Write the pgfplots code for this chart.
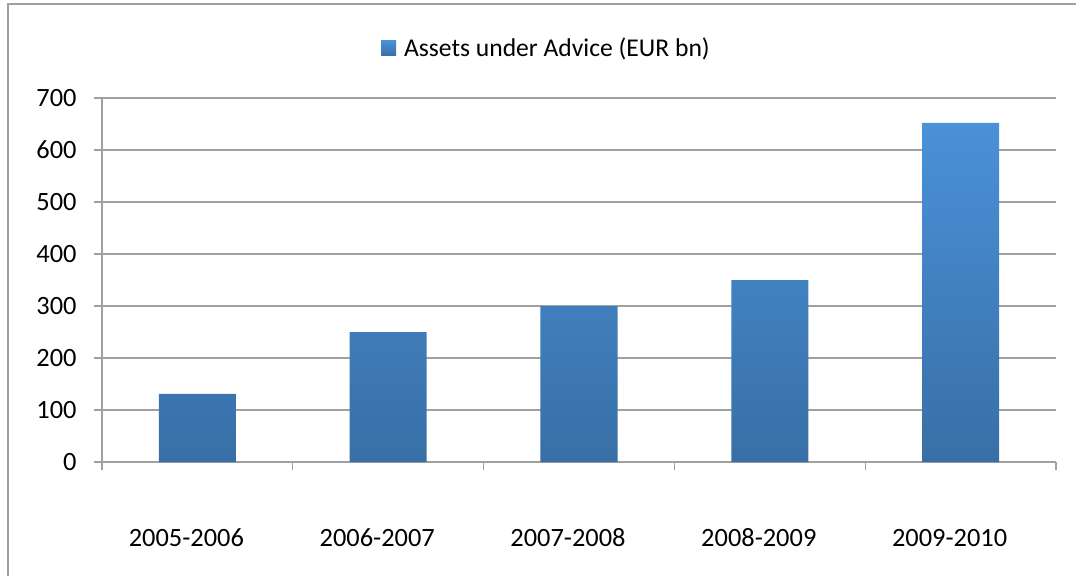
\documentclass[border=0pt]{standalone}
\usepackage{pgfplots}
\pgfplotsset{compat=1.18}
\usepackage{fontspec}
\setmainfont{Carlito}
\definecolor{gridgray}{RGB}{160,160,160}
\definecolor{bartop}{RGB}{74,145,216}
\definecolor{barbot}{RGB}{56,111,166}
\begin{document}
\begin{tikzpicture}
\useasboundingbox (0,0) rectangle (538bp,-288bp);
\draw[gridgray, line width=0.6bp] (4bp,-2bp) rectangle (700bp,-500bp);
\begin{axis}[
  at={(51bp,-231bp)}, anchor=south west,
  scale only axis, width=477bp, height=182bp,
  font=\fontsize{13.2bp}{15.8bp}\selectfont,
  /pgf/number format/assume math mode=true,
  xmin=-0.5, xmax=4.5, ymin=0, ymax=700,
  ytick={0,100,...,700},
  xtick={-0.5,0.5,1.5,2.5,3.5,4.5},
  xticklabels={,,,,,},
  extra x ticks={0,1,2,3,4},
  extra x tick labels={2005-2006,2006-2007,2007-2008,2008-2009,2009-2010},
  extra x tick style={major tick length=0pt, grid=none,
     tick label style={anchor=base, yshift=-42.3bp, xshift=-5.5bp}},
  axis x line*=bottom, axis y line*=left,
  axis line style={-, gridgray, line width=0.65bp},
  tick style={gridgray, line width=0.65bp},
  tick align=outside, major tick length=4bp,
  ymajorgrids, grid style={gridgray, line width=0.65bp},
  yticklabel style={anchor=east, inner sep=0pt, xshift=-8.5bp},
  legend style={at={(axis description cs:0.469,1.137)}, anchor=center,
     draw=none, fill=none, inner sep=0pt,
     font=\fontsize{12.8bp}{15bp}\selectfont,
     nodes={inner xsep=4bp, inner ysep=0pt}},
  legend image code/.code={\fill[top color=bartop, bottom color=barbot]
     (0bp,-3.75bp) rectangle (7.5bp,3.75bp);},
]
\addplot[ybar, bar width=38.5bp, draw=none, top color=bartop, bottom color=barbot]
  coordinates {(0,131) (1,250) (2,300) (3,350) (4,652)};
\addlegendentry{Assets under Advice (EUR bn)}
\end{axis}
\end{tikzpicture}
\end{document}
